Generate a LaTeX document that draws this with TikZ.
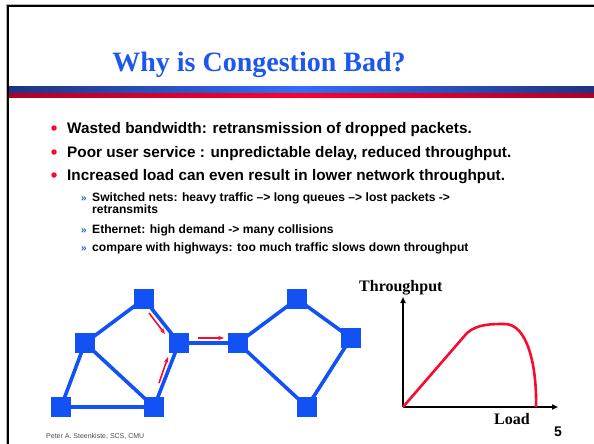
\documentclass[tikz,border=0pt]{standalone}
\usepackage{fontspec}
\setmainfont{Liberation Serif}
\setsansfont{Liberation Sans}
\usetikzlibrary{arrows.meta,backgrounds}
\definecolor{titleblue}{RGB}{28,88,238}
\definecolor{netblue}{RGB}{18,82,245}
\definecolor{netred}{RGB}{250,10,45}
\definecolor{barbluedark}{RGB}{30,50,130}
\definecolor{barbluelight}{RGB}{50,110,245}
\definecolor{barreddark}{RGB}{175,0,40}
\definecolor{barredlight}{RGB}{255,0,45}
\begin{document}
\begin{tikzpicture}[x=1pt,y=-1pt,
  router/.style={fill=netblue,draw=none,minimum size=20pt,inner sep=0pt,rectangle},
  link/.style={draw=netblue,line width=3.6pt},
  flow/.style={draw=netred,line width=1.6pt,-{Stealth[length=6pt,width=4.5pt]}},
  bigbullet/.style={font=\sffamily\bfseries\fontsize{15.3}{17}\selectfont,anchor=base west,inner sep=0pt},
  smallbullet/.style={font=\sffamily\bfseries\fontsize{12.1}{13}\selectfont,anchor=base west,inner sep=0pt},
  raquo/.style={font=\sffamily\bfseries\fontsize{10}{11}\selectfont,text=titleblue,anchor=base west,inner sep=0pt},
  dot/.style={circle,fill=netred,minimum size=5.5pt,inner sep=0pt},
  axis/.style={draw=black,line width=1.5pt,-{Triangle[length=6pt,width=5pt]}},
  axlabel/.style={font=\bfseries\fontsize{16}{18}\selectfont,anchor=base west,inner sep=0pt}]
\useasboundingbox (0,0) rectangle (594,444);
% slide frame
\shade[left color=barbluedark,right color=barbluedark,middle color=barbluelight] (6,86) rectangle (594,92);
\shade[left color=barreddark,right color=barreddark,middle color=barredlight] (6,93) rectangle (594,97);
\draw[gray!60,line width=1pt] (6.5,444) -- (6.5,4.5) -- (594,4.5);
\draw[black,line width=2pt] (8,444) -- (8,6) -- (594,6);
% title
\node[font=\bfseries\fontsize{28}{32}\selectfont,text=titleblue,anchor=base,inner sep=0pt] (title) at (259,71) {Why is Congestion Bad?};
% bullets
\node[dot] (d1) at (54,128) {};
\node[bigbullet] (b1) at (67,133) {Wasted bandwidth: retransmission of dropped packets.};
\node[dot] (d2) at (54,152) {};
\node[bigbullet] (b2) at (67,157) {Poor user service : unpredictable delay, reduced throughput.};
\node[dot] (d3) at (54,175) {};
\node[bigbullet] (b3) at (67,180) {Increased load can even result in lower network throughput.};
\node[raquo] (r1) at (81,201) {»};
\node[smallbullet] (s1) at (92,201) {Switched nets: heavy traffic –> long queues –> lost packets ->};
\node[smallbullet] (s1b) at (92,213.5) {retransmits};
\node[raquo] (r2) at (81,233) {»};
\node[smallbullet] (s2) at (92,233) {Ethernet: high demand -> many collisions};
\node[raquo] (r3) at (81,251.5) {»};
\node[smallbullet] (s3) at (92,251.5) {compare with highways: too much traffic slows down throughput};
% network
\node[router] (A) at (144,299) {};
\node[router] (B) at (85,343) {};
\node[router] (C) at (179,343) {};
\node[router] (D) at (61,407) {};
\node[router] (E) at (154,407) {};
\node[router] (F) at (238,343) {};
\node[router] (G) at (297,299) {};
\node[router] (H) at (351,338) {};
\node[router] (I) at (307,407) {};
\begin{pgfonlayer}{background}
\draw[link] (A.center) -- (B.center);
\draw[link] (A.center) -- (C.center);
\draw[link] (B.center) -- (D.center);
\draw[link] (B.center) -- (E.center);
\draw[link] (C.center) -- (E.center);
\draw[link] (D.center) -- (E.center);
\draw[link] (C.center) -- (F.center);
\draw[link] (F.center) -- (G.center);
\draw[link] (G.center) -- (H.center);
\draw[link] (F.center) -- (I.center);
\draw[link] (H.center) -- (I.center);
\end{pgfonlayer}
\coordinate (f1s) at (149,313);
\coordinate (f1e) at (165,334);
\coordinate (f2s) at (159,383);
\coordinate (f2e) at (168,357);
\coordinate (f3s) at (198,338);
\coordinate (f3e) at (224,338);
\draw[flow] (f1s) -- (f1e);
\draw[flow] (f2s) -- (f2e);
\draw[flow] (f3s) -- (f3e);
% graph
\coordinate (O) at (403,407);
\coordinate (Ytop) at (403,297);
\coordinate (Xend) at (558,407);
\draw[axis] (O) -- (Ytop);
\draw[axis] (O) -- (Xend);
\coordinate (K) at (467,333);
\coordinate (P) at (504,324);
\coordinate (Z) at (536,407);
\draw[netred,line width=2.6pt] (O) -- (K) .. controls (477,324) and (492,324) .. (P) .. controls (527,323) and (537,365) .. (Z);
\node[axlabel] (ylab) at (359,291) {Throughput};
\node[axlabel] (xlab) at (494,424) {Load};
% footer
\node[font=\sffamily\fontsize{7}{8}\selectfont,text=black!70,anchor=base west,inner sep=0pt] (footer) at (46,438) {Peter A. Steenkiste, SCS, CMU};
\node[font=\sffamily\bfseries\fontsize{14}{16}\selectfont,anchor=base west,inner sep=0pt] (page) at (554,436) {5};
\end{tikzpicture}
\end{document}
